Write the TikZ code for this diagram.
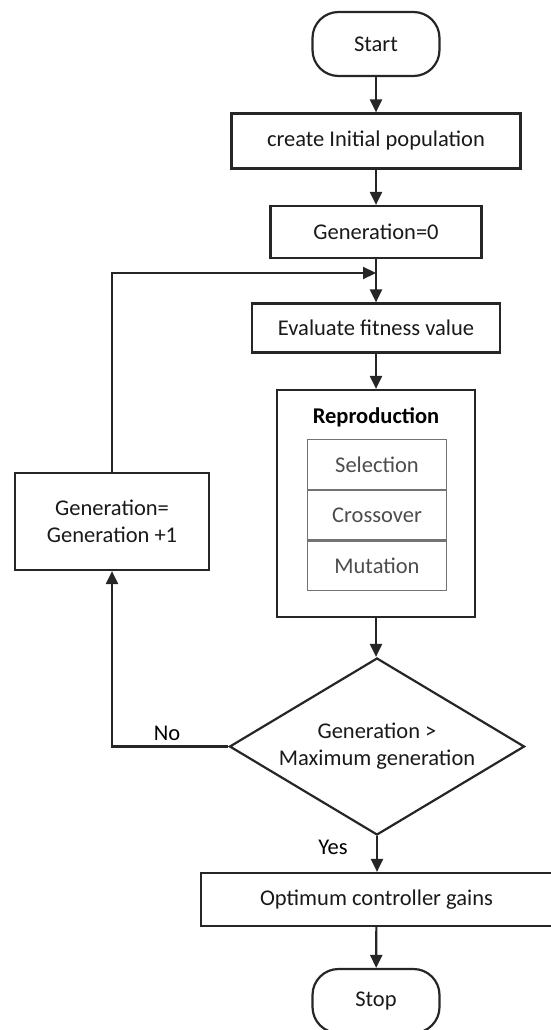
\documentclass[tikz,border=0pt]{standalone}
\usepackage{fontspec}
\setmainfont{Carlito}
\usetikzlibrary{positioning,shapes.geometric,arrows.meta}

\tikzset{
  block/.style={draw=black!85, line width=2.2pt, inner sep=0pt, text=black!90, align=center},
  sub block/.style={draw=black!55, line width=1.1pt, minimum width=139pt, minimum height=49.5pt, text=black!70},
  terminal/.style={block, rounded corners=26pt, minimum width=127pt, minimum height=64pt},
  flow/.style={line width=2.2pt, draw=black!85, -{Triangle[length=13pt,width=12pt]}}
}

\begin{document}
\begin{tikzpicture}[x=1pt, y=-1pt, font=\fontsize{22.5}{27}\selectfont]
  \useasboundingbox (0,0) rectangle (551,1030);

  % start and initialisation
  \node [terminal] (start) at (376,44) {Start};
  \node [block, minimum width=289pt, minimum height=55pt] (init pop) at (376,141) {create Initial population};
  \node [block, minimum width=211pt, minimum height=52pt] (gen zero) at (376,232) {Generation=0};
  \draw [flow] (start) -- (init pop);
  \draw [flow] (init pop) -- (gen zero);

  % fitness
  \node [block, minimum width=248pt, minimum height=49pt] (fitness) at (376,328) {Evaluate fitness value};
  \draw [flow] (gen zero) -- (fitness);

  % reproduction block with its three steps
  \node [block, minimum width=198pt, minimum height=227pt] (reproduction) at (376,503.5) {};
  \node (repro title) at (376,417) {\bfseries Reproduction};
  \node [sub block] (selection) at (377,464.5) {Selection};
  \node [sub block, below=0pt of selection] (crossover) {Crossover};
  \node [sub block, below=0pt of crossover] (mutation) {Mutation};
  \draw [flow] (fitness) -- (reproduction);

  % termination test
  \node [block, diamond, aspect=1.67, minimum width=295pt, minimum height=177pt] (check) at (377,746.5)
    {Generation >\\Maximum generation};
  \draw [flow] (reproduction.south) -- (reproduction.south |- check.north);

  % loop back
  \node [block, minimum width=194pt, minimum height=97pt] (gen next) at (112,521.5) {Generation=\\Generation +1};
  \coordinate (loop in) at (376,273);
  \draw [flow] (check.west) -| (gen next.south);
  \draw [flow] (gen next.north) |- (loop in);
  \node (no label) at (167,733) {No};

  % result and end
  \node [block, minimum width=351pt, minimum height=53pt] (gains) at (376.5,899.5) {Optimum controller gains};
  \draw [flow] (check.south) -- (check.south |- gains.north);
  \node (yes label) at (333,847) {Yes};
  \node [terminal] (stop) at (376,1001) {Stop};
  \draw [flow] (gains) -- (stop);
\end{tikzpicture}
\end{document}
